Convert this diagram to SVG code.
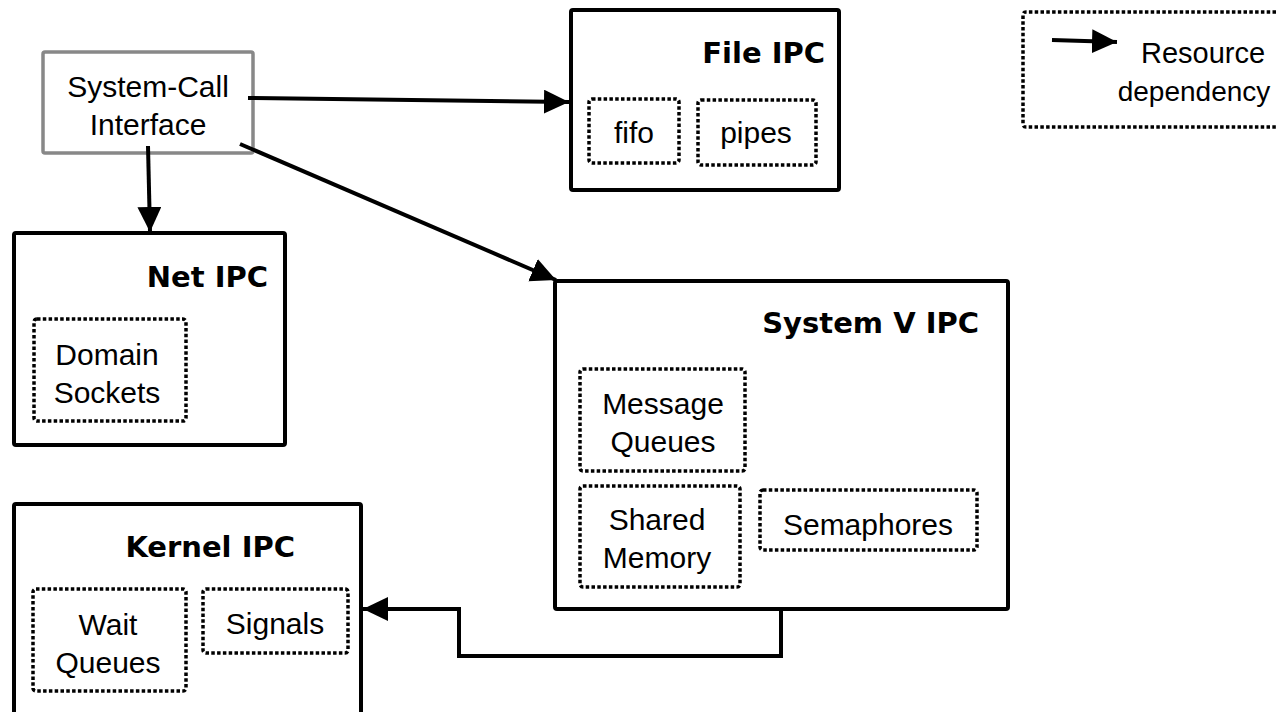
<svg xmlns="http://www.w3.org/2000/svg" width="1276" height="712" viewBox="0 0 1276 712">
<style>
.box{fill:none;stroke:#000;stroke-width:4}
.gray{fill:none;stroke:#888;stroke-width:3.5}
.dot{fill:none;stroke:#000;stroke-width:3.5;stroke-dasharray:3.5 2.3}
.t{font-family:"Liberation Sans",Arial,sans-serif;font-size:30px;fill:#000;text-anchor:middle}
.b{font-family:"DejaVu Sans",Verdana,sans-serif;font-weight:bold;font-size:29px;fill:#000;text-anchor:end}
.c{fill:none;stroke:#000;stroke-width:4}
</style>
<defs>
<marker id="arr" markerUnits="userSpaceOnUse" markerWidth="26" markerHeight="26" refX="25" refY="12" orient="auto" viewBox="0 0 26 26">
<path d="M0,0 L25,12 L0,24 z" fill="#000"/>
</marker>
</defs>
<rect width="1276" height="712" fill="#fff"/>
<g id="syscall">
<rect class="gray" x="43" y="52" width="210" height="101" rx="2"/>
<text class="t" x="148" y="97">System-Call</text>
<text class="t" x="148" y="135">Interface</text>
</g>
<g id="fileipc">
<rect class="box" x="571" y="10" width="268" height="180" rx="2"/>
<text class="b" x="825" y="63">File IPC</text>
<g id="fifo">
<rect class="dot" x="589" y="99" width="90" height="64" rx="3"/>
<text class="t" x="634" y="143">fifo</text>
</g>
<g id="pipes">
<rect class="dot" x="698" y="100" width="118" height="65" rx="3"/>
<text class="t" x="756" y="143">pipes</text>
</g>
</g>
<g id="legend">
<path class="dot" d="M1276,12 H1026 Q1023,12 1023,15 V124 Q1023,127 1026,127 H1276"/>
<line class="c" x1="1052" y1="40" x2="1117" y2="42" marker-end="url(#arr)"/>
<text class="t" x="1203" y="63" style="font-size:29px">Resource</text>
<text class="t" x="1194" y="101" style="font-size:28px">dependency</text>
</g>
<g id="netipc">
<rect class="box" x="14" y="233" width="271" height="212" rx="2"/>
<text class="b" x="268" y="287">Net IPC</text>
<g id="domain">
<rect class="dot" x="34" y="319" width="152" height="102" rx="3"/>
<text class="t" x="107" y="365">Domain</text>
<text class="t" x="107" y="403">Sockets</text>
</g>
</g>
<g id="sysvipc">
<rect class="box" x="555" y="281" width="453" height="328" rx="2"/>
<text class="b" x="979" y="333">System V IPC</text>
<g id="msgq">
<rect class="dot" x="580" y="369" width="165" height="102" rx="3"/>
<text class="t" x="663" y="414">Message</text>
<text class="t" x="663" y="452">Queues</text>
</g>
<g id="shm">
<rect class="dot" x="580" y="486" width="160" height="101" rx="3"/>
<text class="t" x="657" y="530">Shared</text>
<text class="t" x="657" y="568">Memory</text>
</g>
<g id="sem">
<rect class="dot" x="760" y="490" width="217" height="60" rx="3"/>
<text class="t" x="868" y="535">Semaphores</text>
</g>
</g>
<g id="kernelipc">
<path class="box" d="M14,712 V506 Q14,504 16,504 H359 Q361,504 361,506 V712"/>
<text class="b" x="295" y="557">Kernel IPC</text>
<g id="waitq">
<rect class="dot" x="33" y="589" width="153" height="102" rx="3"/>
<text class="t" x="108" y="635">Wait</text>
<text class="t" x="108" y="673">Queues</text>
</g>
<g id="signals">
<rect class="dot" x="203" y="589" width="145" height="64" rx="3"/>
<text class="t" x="275" y="634">Signals</text>
</g>
</g>
<g id="connectors">
<line class="c" x1="248" y1="98" x2="569" y2="102" marker-end="url(#arr)"/>
<line class="c" x1="148" y1="146" x2="150" y2="232" marker-end="url(#arr)"/>
<line class="c" x1="240" y1="144" x2="556" y2="280" marker-end="url(#arr)"/>
<polyline class="c" points="781,609 781,656 459,656 459,609 363,609" marker-end="url(#arr)"/>
</g>
</svg>
